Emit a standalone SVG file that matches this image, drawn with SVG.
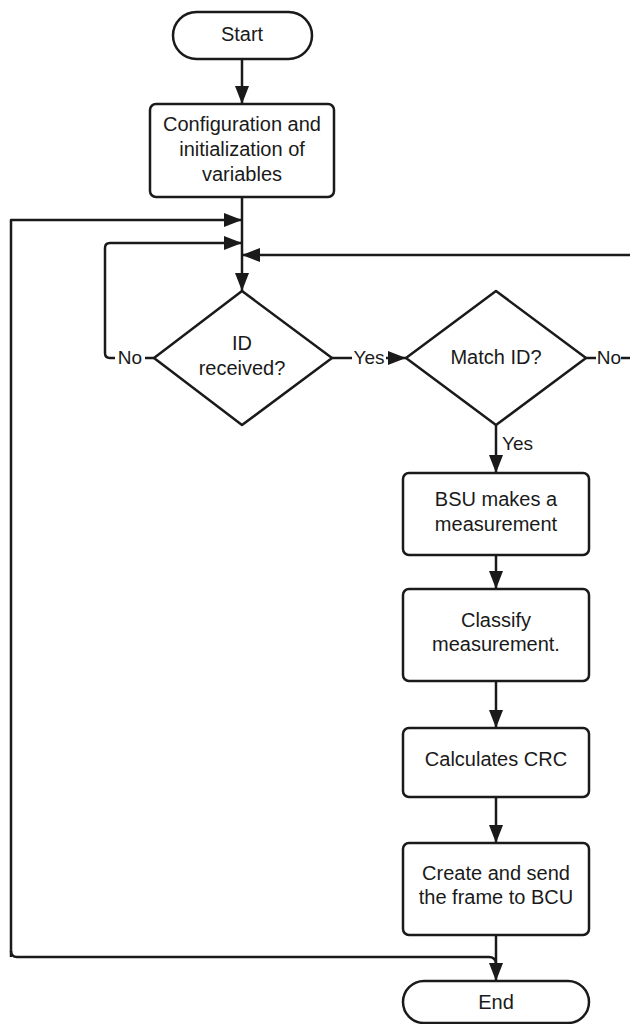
<svg xmlns="http://www.w3.org/2000/svg" width="630" height="1024" viewBox="0 0 630 1024">
<defs>
<marker id="ah" viewBox="0 0 18 14" refX="18" refY="7" markerWidth="18" markerHeight="14" markerUnits="userSpaceOnUse" orient="auto">
<path d="M0,0 L18,7 L0,14 Z" fill="#1a1a1a"/>
</marker>
<style>
.n{fill:#fff;stroke:#1a1a1a;stroke-width:2.5;stroke-linejoin:round}
.c{fill:none;stroke:#1a1a1a;stroke-width:2.5;stroke-linejoin:round}
.t{font-family:"Liberation Sans",Arial,sans-serif;font-size:20px;fill:#1a1a1a;text-anchor:middle}
.l{font-family:"Liberation Sans",Arial,sans-serif;font-size:19px;fill:#1a1a1a;text-anchor:middle}
.bg{fill:#fff}
</style>
</defs>
<rect width="630" height="1024" fill="#fff"/>
<g id="connectors">
<path class="c" d="M242,59 L242,104" marker-end="url(#ah)"/>
<path class="c" d="M242,197 L242,291" marker-end="url(#ah)"/>
<path class="c" d="M11,957 L11,220 L242,220" marker-end="url(#ah)"/>
<path class="c" d="M154,358 L110,358 Q105,358 105,353 L105,248 Q105,243 110,243 L242,243" marker-end="url(#ah)"/>
<path class="c" d="M630,255 L242,255" marker-end="url(#ah)"/>
<path class="c" d="M332,358 L406,358" marker-end="url(#ah)"/>
<path class="c" d="M586,358 L630,358"/>
<path class="c" d="M496,425 L496,473" marker-end="url(#ah)"/>
<path class="c" d="M496,555 L496,589" marker-end="url(#ah)"/>
<path class="c" d="M496,681 L496,728" marker-end="url(#ah)"/>
<path class="c" d="M496,797 L496,843" marker-end="url(#ah)"/>
<path class="c" d="M496,935 L496,981" marker-end="url(#ah)"/>
<path class="c" d="M11,951 Q11,957 17,957 L489,957 Q495,957 496,963"/>
<rect class="bg" x="115" y="348" width="30" height="20"/>
<text class="l" x="130" y="364">No</text>
<rect class="bg" x="352" y="348" width="34" height="20"/>
<text class="l" x="369" y="364">Yes</text>
<rect class="bg" x="596" y="348" width="25" height="20"/>
<text class="l" x="609" y="364">No</text>
<text class="l" x="502" y="450" style="text-anchor:start">Yes</text>
</g>
<g id="start">
<rect class="n" x="173" y="12" width="139" height="47" rx="23.5"/>
<text class="t" x="242" y="41">Start</text>
</g>
<g id="config">
<rect class="n" x="150" y="104" width="184" height="93" rx="6"/>
<text class="t" x="242" y="131">Configuration and</text>
<text class="t" x="242" y="156">initialization of</text>
<text class="t" x="242" y="181">variables</text>
</g>
<g id="idReceived">
<polygon class="n" points="242,291 332,358 242,425 154,358"/>
<text class="t" x="242" y="350">ID</text>
<text class="t" x="242" y="375">received?</text>
</g>
<g id="matchId">
<polygon class="n" points="496,291 586,358 496,425 406,358"/>
<text class="t" x="496" y="364">Match ID?</text>
</g>
<g id="bsu">
<rect class="n" x="403" y="473" width="186" height="82" rx="6"/>
<text class="t" x="496" y="506">BSU makes a</text>
<text class="t" x="496" y="531">measurement</text>
</g>
<g id="classify">
<rect class="n" x="403" y="589" width="186" height="92" rx="6"/>
<text class="t" x="496" y="627">Classify</text>
<text class="t" x="496" y="651">measurement.</text>
</g>
<g id="crc">
<rect class="n" x="403" y="728" width="186" height="69" rx="6"/>
<text class="t" x="496" y="766">Calculates CRC</text>
</g>
<g id="send">
<rect class="n" x="403" y="843" width="186" height="92" rx="6"/>
<text class="t" x="496" y="880">Create and send</text>
<text class="t" x="496" y="904">the frame to BCU</text>
</g>
<g id="end">
<rect class="n" x="403" y="981" width="186" height="42" rx="21"/>
<text class="t" x="496" y="1009">End</text>
</g>
</svg>
